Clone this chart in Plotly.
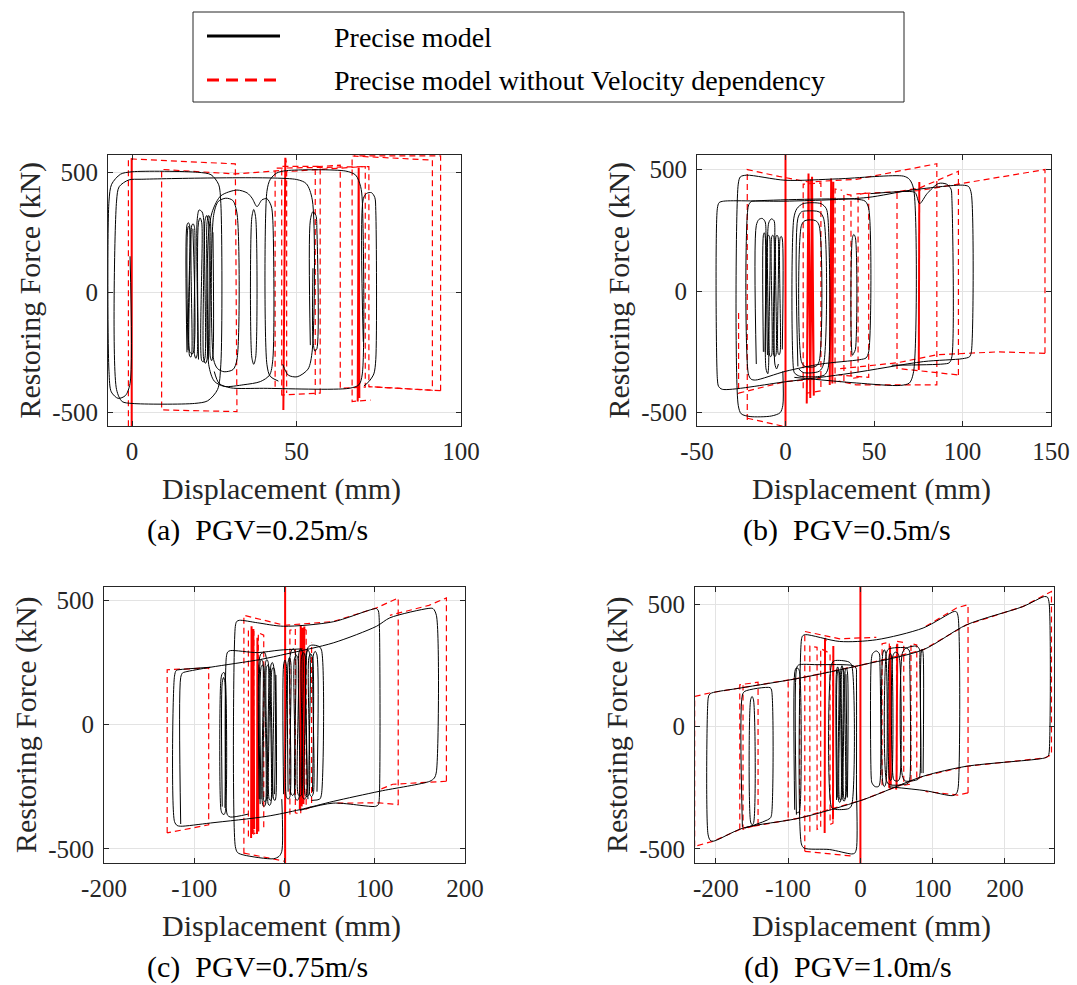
import plotly.graph_objects as go

# ---------------- data ----------------
# Each list holds polylines (displacement mm, restoring force kN)

A_BLACK = [
    [(-0.6,150),(-0.6,-380),(-2,-430),(-4.2,-442),(-6.3,-415),(-7,-330),(-7,380),(-6.2,450),(-3.5,492),(0,502),(20,500),(24,490),(26.3,450),(27,370),(27,-300),(26,-405),(23,-452),(19,-463),(0,-463),(-3,-455),(-4.7,-405),(-4.7,380),(-3.9,440),(-1,468),(3,471),(50,470),(53,452),(54.8,385),(54.8,-240),(53.5,-320),(50.2,-352),(47.5,-345),(45.8,-300)],
    [(23.3,-300),(23.3,250),(24.5,340),(27,402),(31.9,426),(35,414),(36.5,392),(38,357),(39.5,385),(41,390),(42.3,360),(42.8,300),(42.8,-280),(41.8,-345),(39,-372),(34,-385),(28,-392),(25,-370),(23.3,-300)],
    [(25,-330),(26.5,-380),(30,-398),(40,-400),(66,-400),(69,-385),(70,-340),(70,380),(69.5,440),(68,488),(65,505),(47,507),(44,497),(42,470),(41,420),(41,-300),(42,-350),(44.5,-370)],
    [(70.3,-206),(70.3,390),(71.3,412),(72.8,415),(73.8,395),(74.1,340),(74.1,-280),(73.5,-340),(72,-372),(70.5,-390)],
    [(54.2,-220),(54.2,300),(55,336),(55.9,320),(56.2,260),(56.2,-235),(55.6,-245),(55,-200),(55,100)],
    [(36.4,-270),(36.4,310),(37,345),(37.6,310),(37.6,-270),(37,-300),(36.4,-270)],
    [(24.8,-280),(24.8,320),(26.2,378),(28.5,392),(30.6,383),(31.9,330),(31.9,-280),(30.7,-322),(28,-331),(26,-318),(24.8,-280)],
    [(16.7,-250),(16.7,280),(17.1,290),(17.5,280),(17.5,-265),(17.9,-270),(18.2,-250),(18.2,280),(18.6,285),(19,270),(19,-260),(19.4,-275),(19.8,-260),(19.8,300),(20.4,343),(21.3,335),(21.8,300),(21.8,-280),(22.3,-296),(22.8,-280),(22.8,290),(23.3,320),(23.8,300),(23.8,-270),(24.2,-285),(24.6,-260),(24.6,250)],
    [(20.2,-280),(20.2,290),(20.7,310),(21.2,290),(21.2,-285),(21.7,-290),(22.2,-270),(22.2,300),(22.7,320),(23.2,300),(23.2,-280)],
    [(17.0,-240),(17.0,270),(17.3,275),(17.6,262),(17.6,-250),(18.5,-255),(18.5,265)],
]
A_RED = [
    [(-1.1,-600),(-1.1,556),(31.4,535),(31.9,-497),(9.0,-490),(9.0,512),(31.4,493),(44.7,507)],
    [(43.5,-393),(43.5,517),(72,524),(72,-393),(91.3,-408),(91.3,551),(66.9,568),(66.9,-455),(72.5,-449)],
    [(45.5,-430),(45.5,525),(57.2,525),(57.2,-420),(45.5,-428)],
    [(55.7,-428),(55.7,523),(63.3,530),(63.3,-400),(70.9,-395),(70.9,524),(47,503),(47,-420)],
    [(93.8,-410),(93.8,568),(67.5,568)],
    [(93.8,-410),(72,-393)],
]
A_RED_SOLID = [
    [(-0.1,-600),(-0.1,558)],
    [(46.0,-490),(46.6,560),(46.2,-470),(46.8,540)],
    [(68.6,-455),(68.9,520),(69.1,-440)],
]

B_BLACK = [
    [(-35.7,-404),(-37.8,-392),(-38.5,-360),(-38.5,340),(-37.5,364),(-35,370),(0,370),(46,385),(70.5,415),(100,436),(103.5,430),(105,400),(105,-250),(104,-270),(100,-278),(78,-290),(36.7,-338),(0,-373),(-35.7,-404)],
    [(-1.5,-330),(-1.5,-470),(-3,-500),(-8,-514),(-20,-516),(-25,-505),(-26.7,-470),(-26.7,440),(-25.5,470),(-22,477),(0,456),(30,462),(66.7,473),(70,460),(72.4,420),(72.4,-330),(70,-378),(65,-388),(40,-378),(5,-355)],
    [(-21,-340),(-21,350),(-19.5,368),(-17,371),(40,378),(45,370),(47,340),(47,-250),(45.5,-275),(42,-282),(20,-300),(0,-330),(-17,-366),(-19.5,-362),(-21,-340)],
    [(-16.5,-300),(-16.5,270),(-15,295),(-13.1,299),(-11.5,285),(-11,220),(-11,-320),(-10,-340),(-9.5,-300),(-9.5,280),(-8,297),(-6.5,290),(-6,220),(-6,-300),(-5,-320),(-4,-300)],
    [(-10.2,-263),(-10.2,223),(-9.6,230),(-9,223),(-9,-263),(-8.4,-270),(-7.8,-263),(-7.8,223),(-7.2,230),(-6.6,223),(-6.6,-263),(-6,-270),(-5.4,-263),(-5.4,223),(-4.8,230),(-4.2,223),(-4.2,-255),(-3.6,-262),(-3,-250),(-3,220),(-2.4,225),(-1.8,215),(-1.8,-240)],
    [(-12.5,-250),(-12.5,230),(-12,240),(-11.5,230),(-11.5,-250)],
    [(4.7,-330),(4.7,300),(6.5,340),(10,360),(20,360),(23,340),(24,300),(24,-320),(22,-345),(18,-352),(8,-350),(5.5,-340),(4.7,-330)],
    [(7,-310),(7,300),(9,326),(12,330),(19,326),(21.5,300),(21.5,-300),(19,-330),(10,-335),(7.5,-320)],
    [(9,-290),(9,270),(11,290),(17,290),(19,270),(19,-290),(17,-310),(11,-310),(9,-290)],
    [(37.8,-264),(37.8,220),(38.6,233),(39.5,220),(39.5,-240),(38.6,-255),(37.8,-264)],
    [(48,401),(70,410),(73.3,405),(75.8,360),(80,401),(86.5,443),(91,440),(93.5,420),(94,380),(94,-270),(92.5,-295),(89,-300),(60,-305)],
]
B_RED = [
    [(-21.6,-530),(-21.6,500),(-3.8,472),(13,449),(40,460),(85.5,524),(85.5,-386),(40,-386),(30,-370)],
    [(-26.5,-90),(-26.5,-420),(0,-372),(20,-360)],
    [(97.7,-345),(97.7,493),(76,425),(63,408),(63,-318),(97.7,-345)],
    [(146.6,-256),(146.6,500),(76,414),(40,400)],
    [(146.6,-256),(120,-250),(85.5,-262),(63,-295),(30,-320)],
    [(33,-370),(33,400),(37,395),(37,-360),(41,-355),(41,398),(47,405),(47,-355),(30,-345)],
    [(-21.6,-523),(0,-558)],
    [(10,-400),(10,440),(20,445),(20,-410),(12,-420)],
    [(28,-380),(28,420),(32,415)],
]
B_RED_SOLID = [
    [(0,-600),(0,600)],
    [(12,-462),(13,484),(14,-440),(15,470),(16,-430),(14.5,460)],
    [(25,-386),(25.8,463),(26.5,-380),(27,450)],
    [(75.3,-325),(75.6,449)],
]

C_BLACK = [
    [(-115,-400),(-115,190),(-113,208),(-110,212),(-82,231),(-27,262),(2.6,285),(54,329),(102,396),(116.8,430),(160,468),(164.6,467),(168.3,440),(168.3,-190),(166,-215),(161,-228),(105.7,-268),(54,-309),(17.3,-342),(-19.5,-369),(-82,-396),(-115,-409),(-119,-406),(-121.9,-390),(-121.9,195),(-120,218),(-117,221),(-82,231)],
    [(-3,-300),(-3,-510),(-6,-530),(-12.2,-540),(-45,-525),(-52,-515),(-54.5,-490),(-54.5,395),(-53,415),(-50,420),(-30,410),(-1.1,396),(54,414),(95,462),(102,467),(104,458),(105,420),(105,-300),(104,-322),(101,-329),(54,-316),(17,-345)],
    [(-40,-360),(-60,-372),(-63,-365),(-64.5,-340),(-64.5,270),(-63,292),(-60,298),(-30,290),(-5,300),(20,305)],
    [(-70.5,-340),(-70.5,180),(-69,205),(-67,210),(-65.5,185),(-65.5,-350),(-67,-362),(-69,-358),(-70.5,-340)],
    [(-69,-330),(-69,170),(-67.5,190),(-66,170),(-66,-335)],
    [(-27,-320),(-27,250),(-25.5,262),(-24,250),(-24,-325),(-22.5,-329),(-21,-320),(-21,250),(-19.5,262),(-18,250),(-18,-320),(-16.5,-325),(-15,-315),(-15,240),(-13.5,250),(-12,235),(-12,-300),(-10.5,-305),(-9.5,-290),(-9.5,200)],
    [(-26,-300),(-26,230),(-24.5,240),(-23,230),(-23,-305),(-21.5,-310),(-20,-300),(-20,230),(-18.5,240),(-17,230),(-17,-300),(-15.5,-305),(-14,-295),(-14,220),(-12.5,230),(-11,220),(-11,-280)],
    [(-28,-300),(-28,260),(-26,285),(-22,290),(-20,265)],
    [(-1,-280),(-1,240),(0.5,260),(2,240),(2,-290),(4,-300),(6,-290),(6,270),(8,300),(10,305),(12,290),(12,-295),(14,-305),(16,-295),(16,290),(18,305),(20,290),(20,-290),(22,-300),(24,-290),(24,285),(26,300),(28,285),(28,-280),(30,-290),(32,-275),(32,280),(34,295),(36,280),(36,-270)],
    [(4,-270),(4,250),(5.5,270),(7,250),(7,-275),(9,-285),(11,-275),(11,265),(13,280),(15,265),(15,-280),(17,-288),(19,-280),(19,275),(21,290),(23,275),(23,-285),(25,-290),(27,-280),(27,270),(29,285),(31,270),(31,-270)],
    [(26,-300),(26,310),(30,320),(38,315),(41,300),(41,-280),(39,-300),(30,-305)],
]
C_RED = [
    [(-130,-436),(-130,221),(-84,228),(-84,-403),(-130,-436)],
    [(-45,-520),(-45,440),(0,400),(54,415),(102,470),(126,510),(126,-322),(105,-315),(54,-316)],
    [(179.4,-228),(179.4,510),(160,480),(116.8,440)],
    [(179.4,-228),(120,-240),(105,-262)],
    [(-45,-517),(0,-550)],
    [(-40,-450),(-40,380),(-34,375),(-34,-440),(-29,-430),(-29,370),(-23,360),(-23,-420)],
    [(6,-362),(6,380),(12,385),(12,-355),(18,-360),(18,390),(24,380),(24,-340),(30,-330),(30,330)],
]
C_RED_SOLID = [
    [(0.7,-600),(0.7,600)],
    [(-37,-456),(-36.5,396),(-35.5,-440),(-34.5,385),(-33.5,-420)],
    [(-30.5,-440),(-30,350),(-29,-430)],
    [(17,-340),(18,400),(19,-330),(20,390),(21,-320),(22,395)],
]

D_BLACK = [
    [(-211,-440),(-211,110),(-209.5,130),(-206,138),(-167,158),(-84,199),(3.7,254),(86.8,315),(146.8,417),(225,492),(255,533),(259,530),(261.3,505),(261.3,-105),(260,-120),(255,-128),(146.8,-162),(86.8,-203),(3.7,-299),(-84,-374),(-162.5,-415),(-204,-469),(-208,-465),(-211,-440)],
    [(-5.5,-250),(-5.5,-500),(-8,-518),(-12,-521),(-42.5,-503),(-78,-497),(-81.7,-480),(-81.7,355),(-80,372),(-76,377),(-28.6,349),(22,356),(86.8,404),(130,472),(133,470),(135.3,450),(135.3,-250),(133,-273),(128,-282),(90,-262),(40,-246)],
    [(-163.4,-410),(-163.4,130),(-160,145),(-125,160),(-123,150),(-123,-360),(-125,-375),(-160,-415)],
    [(-152,-390),(-152,110),(-150,124),(-148,110),(-148,-395),(-150,-401),(-152,-390)],
    [(-91,-340),(-91,220),(-89,240),(-86,238),(-84,220),(-84,-340),(-86,-352),(-89,-350)],
    [(-88.6,-360),(-88.6,235),(-86,252),(-60,254),(-10,250),(-6,240),(-5.5,200),(-5.5,-300)],
    [(-33,-300),(-33,230),(-31.5,245),(-30,230),(-30,-305),(-28.5,-310),(-27,-300),(-27,235),(-25.5,250),(-24,235),(-24,-300),(-22.5,-305),(-21,-295),(-21,230),(-19.5,240),(-18,225),(-18,-290)],
    [(-32,-290),(-32,220),(-30.5,232),(-29,220),(-29,-295),(-27.5,-300),(-26,-290),(-26,225),(-24.5,238),(-23,225),(-23,-290),(-21.5,-296),(-20,-285),(-20,215)],
    [(-40,-330),(-40,255),(-36,270),(-16,265),(-12,250),(-12,-320),(-16,-335),(-36,-338),(-40,-330)],
    [(15,-210),(15,270),(17,300),(22,310),(26,300),(27,260),(27,-230),(25,-245),(20,-245),(16,-230),(15,-210)],
    [(36,-220),(36,300),(39,318),(64,322),(68,310),(68.3,270),(68.3,-215),(66,-232),(40,-237),(36,-220)],
    [(45,-200),(45,290),(48,305),(52,300),(54.5,270),(54.5,-210),(52,-222),(47,-220),(45,-200)],
    [(58,-200),(58,300),(62,320),(78,330),(82,315),(82.2,270),(82.2,-200),(80,-215),(62,-222),(58,-200)],
    [(84,-190),(84,300),(85.5,318),(86.8,300),(86.8,-190)],
    [(31,-230),(31,300),(33,315),(35,300),(35,-235),(33,-245),(31,-230)],
    [(40,-210),(40,290),(41.5,300),(43,290),(43,-215),(41.5,-220),(40,-210)],
]
D_RED = [
    [(-229.5,-490),(-229.5,124),(-208.7,138),(-167,158),(-84,199),(3.7,254),(86.8,315),(146.8,417),(225,492),(264.5,554),(264.5,-115),(255,-128),(146.8,-162),(86.8,-203),(3.7,-299),(-84,-374),(-162.5,-415),(-204,-469),(-229.5,-490)],
    [(149,-271),(149,500),(133,486),(86.8,404)],
    [(149,-271),(135,-280),(90,-265)],
    [(-77,-510),(-77,390),(-28.6,360),(22,366)],
    [(-77,-510),(-10,-530)],
    [(-167,-421),(-167,172),(-141.7,182),(-141.7,-400),(-162.5,-420),(-162.5,170)],
    [(-100,-372),(-100,190),(-84,200),(-84,-372)],
    [(-70,-430),(-70,330),(-60,325),(-60,-420),(-55,-415),(-55,320),(-42,300),(-42,-400),(-38,-395),(-38,290)],
    [(30,-240),(30,340),(40,345),(40,-250),(50,-255),(50,350),(60,345),(60,-240),(70,-235),(70,340),(78,335),(78,-220)],
]
D_RED_SOLID = [
    [(0,-600),(0,600)],
    [(-49.5,-435),(-49,363),(-48.5,-420),(-48,350)],
    [(-38,-380),(-37.5,330)],
    [(40,-250),(41,330),(42,-240)],
    [(50,-245),(51,340)],
]

X_RANGES = {"a": [-7.3, 100], "b": [-50, 150], "c": [-200, 200], "d": [-229, 268]}
Y_RANGES = {"a": [-557, 572], "b": [-555, 560], "c": [-557, 554], "d": [-558, 572]}
X_TICKS = {"a": [0, 50, 100], "b": [-50, 0, 50, 100, 150],
           "c": [-200, -100, 0, 100, 200], "d": [-200, -100, 0, 100, 200]}
Y_TICKS = [-500, 0, 500]
SUBTITLES = {"a": "(a)\u00a0 PGV=0.25m/s", "b": "(b)\u00a0 PGV=0.5m/s",
             "c": "(c)\u00a0 PGV=0.75m/s", "d": "(d)\u00a0 PGV=1.0m/s"}
LEGEND_LABELS = ["Precise model", "Precise model without Velocity dependency"]

# ---------------- layout helpers ----------------
W, H = 1077, 985
FONT = "Liberation Serif"
# plot boxes in pixels: left, right, top, bottom
BOX = {"a": (108, 461, 155, 426), "b": (697, 1051, 155, 426),
       "c": (104, 465, 587, 863), "d": (695, 1054, 587, 863)}


def flat(polys):
    xs, ys = [], []
    for p in polys:
        for x, y in p:
            xs.append(x)
            ys.append(y)
        xs.append(None)
        ys.append(None)
    return xs, ys


def px(x):
    return x / W


def py(y):
    return 1 - y / H


fig = go.Figure()
DATA = {"a": (A_BLACK, A_RED, A_RED_SOLID), "b": (B_BLACK, B_RED, B_RED_SOLID),
        "c": (C_BLACK, C_RED, C_RED_SOLID), "d": (D_BLACK, D_RED, D_RED_SOLID)}

annotations = []
for i, k in enumerate(["a", "b", "c", "d"]):
    sfx = "" if i == 0 else str(i + 1)
    xa, ya = "x" + sfx, "y" + sfx
    black, red, red_solid = DATA[k]
    rx, ry = flat(red)
    fig.add_trace(go.Scatter(x=rx, y=ry, mode="lines", xaxis=xa, yaxis=ya,
                             line=dict(color="#ff0000", width=1.2, dash="6px,4px"),
                             name=LEGEND_LABELS[1], showlegend=False, hoverinfo="skip"))
    sx, sy = flat(red_solid)
    fig.add_trace(go.Scatter(x=sx, y=sy, mode="lines", xaxis=xa, yaxis=ya,
                             line=dict(color="#ff0000", width=2),
                             showlegend=False, hoverinfo="skip"))
    bx, by = flat(black)
    fig.add_trace(go.Scatter(x=bx, y=by, mode="lines", xaxis=xa, yaxis=ya,
                             line=dict(color="#000000", width=1, shape="spline", smoothing=0.8),
                             name=LEGEND_LABELS[0], showlegend=False, hoverinfo="skip"))
    l, r, t, b = BOX[k]
    axcommon = dict(showgrid=True, gridcolor="#e3e3e3", gridwidth=1, zeroline=False,
                    showline=True, linecolor="#262626", linewidth=1, mirror="allticks",
                    ticks="inside", ticklen=5, tickcolor="#262626", automargin=False,
                    tickfont=dict(family=FONT, size=25, color="#262626"))
    fig.layout["xaxis" + sfx] = dict(domain=[px(l), px(r)], range=X_RANGES[k], anchor=ya,
                                     tickvals=X_TICKS[k], ticktext=[str(v) for v in X_TICKS[k]],
                                     ticklabelstandoff=3, **axcommon)
    fig.layout["yaxis" + sfx] = dict(domain=[py(b), py(t)], range=Y_RANGES[k], anchor=xa,
                                     tickvals=Y_TICKS, ticktext=[str(v) for v in Y_TICKS],
                                     ticklabelstandoff=4, **axcommon)
    cx = (l + r) / 2
    annotations.append(dict(text="Displacement (mm)", x=px(cx - 3), y=py(b + 63), xref="paper", yref="paper",
                            showarrow=False, xanchor="center", yanchor="middle",
                            font=dict(family=FONT, size=30, color="#262626")))
    annotations.append(dict(text="Restoring Force (kN)", x=px(l - 78), y=py((t + b) / 2), xref="paper",
                            yref="paper", showarrow=False, textangle=-90, xanchor="center",
                            yanchor="middle", font=dict(family=FONT, size=30, color="#262626")))
    annotations.append(dict(text=SUBTITLES[k], x=px(cx - 27), y=py(b + 104), xref="paper", yref="paper",
                            showarrow=False, xanchor="center", yanchor="middle",
                            font=dict(family=FONT, size=30, color="#000000")))

# legend box drawn at the top
shapes = [
    dict(type="rect", xref="paper", yref="paper", x0=px(193), x1=px(904), y0=py(102), y1=py(12),
         line=dict(color="#262626", width=1), fillcolor="white"),
    dict(type="line", xref="paper", yref="paper", x0=px(207), x1=px(280), y0=py(36), y1=py(36),
         line=dict(color="#000000", width=3)),
    dict(type="line", xref="paper", yref="paper", x0=px(207), x1=px(280), y0=py(80), y1=py(80),
         line=dict(color="#ff0000", width=3, dash="12px,7px")),
]
annotations.append(dict(text=LEGEND_LABELS[0], x=px(332), y=py(37), xref="paper", yref="paper",
                        showarrow=False, xanchor="left", yanchor="middle",
                        font=dict(family=FONT, size=28, color="#000000")))
annotations.append(dict(text=LEGEND_LABELS[1], x=px(332), y=py(81), xref="paper", yref="paper",
                        showarrow=False, xanchor="left", yanchor="middle",
                        font=dict(family=FONT, size=28, color="#000000")))

fig.update_layout(width=W, height=H, margin=dict(l=0, r=0, t=0, b=0, pad=0, autoexpand=False),
                  font=dict(family=FONT),
                  paper_bgcolor="white", plot_bgcolor="white", showlegend=False,
                  annotations=annotations, shapes=shapes)

fig.write_html("out.html", config={"displayModeBar": False},
               post_script="document.body.style.margin='0px';document.body.style.overflow='hidden';")
